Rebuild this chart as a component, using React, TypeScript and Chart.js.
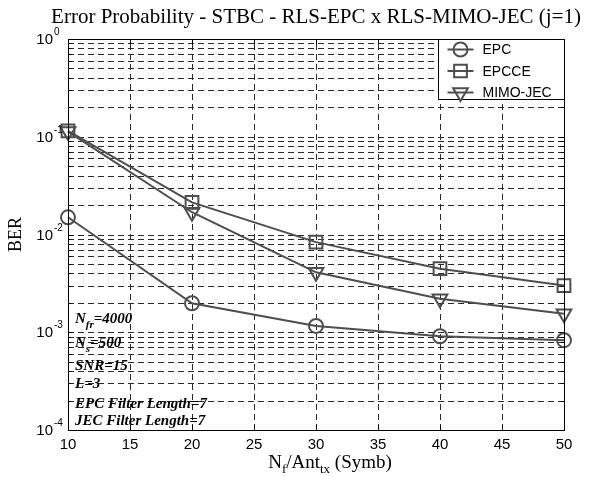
import React, { useEffect, useRef } from 'react';
import { Chart, registerables } from 'chart.js';

Chart.register(...registerables);

// ---- data ----
const categories = [10, 20, 30, 40, 50];
const epc = [0.015, 0.00198, 0.00116, 0.00091, 0.00083];
const epcce = [0.115, 0.0213, 0.00835, 0.00447, 0.003];
const mimoJec = [0.113, 0.0169, 0.0041, 0.0022, 0.00155];
const seriesNames = ['EPC', 'EPCCE', 'MIMO-JEC'];
const xTicks = [10, 15, 20, 25, 30, 35, 40, 45, 50];
const yExponents = [0, -1, -2, -3, -4];
const titleText = 'Error Probability - STBC - RLS-EPC x RLS-MIMO-JEC (j=1)';
const yLabel = 'BER';
type Part = { t: string; sub?: boolean };
const xLabel: Part[] = [{ t: 'N' }, { t: 'f', sub: true }, { t: '/Ant' }, { t: 'tx', sub: true }, { t: ' (Symb)' }];
const notes: Part[][] = [
  [{ t: 'N' }, { t: 'fr', sub: true }, { t: '=4000' }],
  [{ t: 'N' }, { t: 's', sub: true }, { t: '=500' }],
  [{ t: 'SNR=15' }],
  [{ t: 'L=3' }],
  [{ t: 'EPC Filter Length=7' }],
  [{ t: 'JEC Filter Length=7' }],
];

const LINE = '#4e4e4e';
const GRID = '#2a2a2a';
const SANS = '"Liberation Sans", Arial, sans-serif';
const SERIF = '"Liberation Serif", "Times New Roman", serif';

function yGridValues(): number[] {
  const out: number[] = [];
  const minE = Math.min(...yExponents);
  const maxE = Math.max(...yExponents);
  for (let e = minE; e < maxE; e++) {
    for (let m = 1; m <= 9; m++) out.push(m * Math.pow(10, e));
  }
  out.push(Math.pow(10, maxE));
  return out;
}

function drawRich(ctx: CanvasRenderingContext2D, parts: Part[], x: number, y: number, font: (s: number) => string, size: number, subSize: number, subDy: number, align: 'left' | 'center') {
  let total = 0;
  const widths = parts.map((p) => {
    ctx.font = font(p.sub ? subSize : size);
    const w = ctx.measureText(p.t).width;
    total += w;
    return w;
  });
  let cx = align === 'center' ? x - total / 2 : x;
  ctx.textAlign = 'left';
  ctx.textBaseline = 'alphabetic';
  parts.forEach((p, i) => {
    ctx.font = font(p.sub ? subSize : size);
    ctx.fillText(p.t, cx, p.sub ? y + subDy : y);
    cx += widths[i];
  });
}

function drawMarker(ctx: CanvasRenderingContext2D, style: string, x: number, y: number, r: number) {
  ctx.beginPath();
  if (style === 'circle') {
    ctx.arc(x, y, r, 0, Math.PI * 2);
  } else if (style === 'rect') {
    const s = r * Math.SQRT1_2;
    ctx.rect(x - s, y - s, 2 * s, 2 * s);
  } else {
    const w = r * Math.sin(Math.PI / 3);
    ctx.moveTo(x, y + r);
    ctx.lineTo(x - w, y - r / 2);
    ctx.lineTo(x + w, y - r / 2);
    ctx.closePath();
  }
  ctx.stroke();
}

const pointStyles = ['circle', 'rect', 'triangle'];
const pointRadii = [7, 9, 8.5];

const matlabPlugin = {
  id: 'matlabDecor',
  beforeDatasetsDraw(chart: any) {
    const { ctx, chartArea: a, scales } = chart;
    const xs = scales.x;
    const ys = scales.y;
    ctx.save();
    ctx.strokeStyle = GRID;
    ctx.lineWidth = 1;
    ctx.setLineDash([6, 4]);
    xTicks.forEach((v) => {
      const px = Math.round(xs.getPixelForValue(v)) + 0.5;
      if (px <= a.left + 1 || px >= a.right - 1) return;
      ctx.beginPath();
      ctx.moveTo(px, a.bottom);
      ctx.lineTo(px, a.top);
      ctx.stroke();
    });
    yGridValues().forEach((v) => {
      const py = Math.round(ys.getPixelForValue(v)) + 0.5;
      if (py <= a.top + 1 || py >= a.bottom - 1) return;
      ctx.beginPath();
      ctx.moveTo(a.left, py);
      ctx.lineTo(a.right, py);
      ctx.stroke();
    });
    ctx.setLineDash([]);
    ctx.strokeStyle = '#000';
    xTicks.forEach((v) => {
      const px = Math.round(xs.getPixelForValue(v)) + 0.5;
      ctx.beginPath();
      ctx.moveTo(px, a.bottom);
      ctx.lineTo(px, a.bottom - 5);
      ctx.moveTo(px, a.top);
      ctx.lineTo(px, a.top + 5);
      ctx.stroke();
    });
    yGridValues().forEach((v) => {
      const py = Math.round(ys.getPixelForValue(v)) + 0.5;
      const len = Math.abs(Math.log10(v) - Math.round(Math.log10(v))) < 1e-9 ? 5 : 3;
      ctx.beginPath();
      ctx.moveTo(a.left, py);
      ctx.lineTo(a.left + len, py);
      ctx.moveTo(a.right, py);
      ctx.lineTo(a.right - len, py);
      ctx.stroke();
    });
    ctx.restore();
  },
  afterDraw(chart: any) {
    const { ctx, chartArea: a, scales } = chart;
    const xs = scales.x;
    const ys = scales.y;
    ctx.save();
    ctx.strokeStyle = '#000';
    ctx.lineWidth = 1;
    ctx.strokeRect(Math.round(a.left) + 0.5, Math.round(a.top) + 0.5, Math.round(a.right - a.left), Math.round(a.bottom - a.top));

    ctx.fillStyle = '#000';
    ctx.font = `15px ${SANS}`;
    ctx.textAlign = 'center';
    ctx.textBaseline = 'alphabetic';
    xTicks.forEach((v) => {
      ctx.fillText(String(v), xs.getPixelForValue(v), a.bottom + 19);
    });
    yExponents.forEach((e) => {
      const py = ys.getPixelForValue(Math.pow(10, e));
      ctx.font = `15px ${SANS}`;
      ctx.textAlign = 'right';
      ctx.textBaseline = 'alphabetic';
      ctx.fillText('10', a.left - 15, py + 5);
      ctx.font = `10px ${SANS}`;
      ctx.textAlign = 'left';
      ctx.fillText(String(e), a.left - 14, py - 4);
    });

    ctx.font = `21px ${SERIF}`;
    ctx.textAlign = 'center';
    ctx.textBaseline = 'alphabetic';
    ctx.fillText(titleText, (a.left + a.right) / 2, 23);

    drawRich(ctx, xLabel, (a.left + a.right) / 2 + 14, 468, (s) => `${s}px ${SERIF}`, 19, 13, 5, 'center');

    ctx.save();
    ctx.translate(21, (a.top + a.bottom) / 2);
    ctx.rotate(-Math.PI / 2);
    ctx.font = `18px ${SERIF}`;
    ctx.textAlign = 'center';
    ctx.textBaseline = 'alphabetic';
    ctx.fillText(yLabel, 0, 0);
    ctx.restore();

    const noteYs = [323, 347, 370, 388, 408, 425];
    notes.forEach((parts, i) => {
      drawRich(ctx, parts, a.left + 7, noteYs[i], (s) => `italic bold ${s}px ${SERIF}`, 15, 11, 5, 'left');
    });

    const lw = 126;
    const lh = 60;
    const lx = Math.round(a.right - lw) + 0.5;
    const ly = Math.round(a.top) + 0.5;
    ctx.fillStyle = '#fff';
    ctx.fillRect(lx, ly, lw, lh);
    ctx.strokeStyle = '#000';
    ctx.lineWidth = 1;
    ctx.strokeRect(lx, ly, lw, lh);
    seriesNames.forEach((name, i) => {
      const cy = ly + 10 + i * 21.5;
      ctx.strokeStyle = LINE;
      ctx.lineWidth = 2;
      ctx.beginPath();
      ctx.moveTo(lx + 9, cy);
      ctx.lineTo(lx + 35, cy);
      ctx.stroke();
      drawMarker(ctx, pointStyles[i], lx + 22, cy, pointRadii[i]);
      ctx.fillStyle = '#000';
      ctx.font = `14px ${SANS}`;
      ctx.textAlign = 'left';
      ctx.textBaseline = 'middle';
      ctx.fillText(name, lx + 44, cy + 1);
    });
    ctx.restore();
  },
};

export default function App() {
  const ref = useRef<HTMLCanvasElement>(null);
  useEffect(() => {
    document.body.style.margin = '0';
    const canvas = ref.current;
    if (!canvas) return;
    const seriesValues = [epc, epcce, mimoJec];
    const chart = new Chart(canvas, {
      type: 'line',
      data: {
        labels: categories,
        datasets: seriesValues.map((vals, i) => ({
          label: seriesNames[i],
          data: categories.map((c, j) => ({ x: c, y: vals[j] })),
          borderColor: LINE,
          backgroundColor: 'rgba(0,0,0,0)',
          borderWidth: 2,
          pointStyle: pointStyles[i] as any,
          pointRadius: pointRadii[i],
          pointRotation: i === 2 ? 180 : 0,
          pointBorderColor: LINE,
          pointBackgroundColor: 'rgba(0,0,0,0)',
          pointBorderWidth: 2,
          tension: 0,
          fill: false,
          clip: false as any,
        })),
      },
      options: {
        animation: false,
        responsive: false,
        maintainAspectRatio: false,
        layout: { padding: { left: 68, top: 39, right: 25, bottom: 47 } },
        plugins: {
          legend: { display: false },
          title: { display: false },
          tooltip: { enabled: false },
        },
        scales: {
          x: {
            type: 'linear',
            min: 10,
            max: 50,
            ticks: { display: false },
            grid: { display: false, drawTicks: false },
            border: { display: false },
          },
          y: {
            type: 'logarithmic',
            min: 1e-4,
            max: 1,
            ticks: { display: false },
            grid: { display: false, drawTicks: false },
            border: { display: false },
          },
        },
      },
      plugins: [matlabPlugin],
    });
    return () => chart.destroy();
  }, []);
  return (
    <div style={{ position: 'absolute', left: 0, top: 0, width: 589, height: 477, background: '#fff' }}>
      <canvas ref={ref} width={589} height={477} />
    </div>
  );
}
